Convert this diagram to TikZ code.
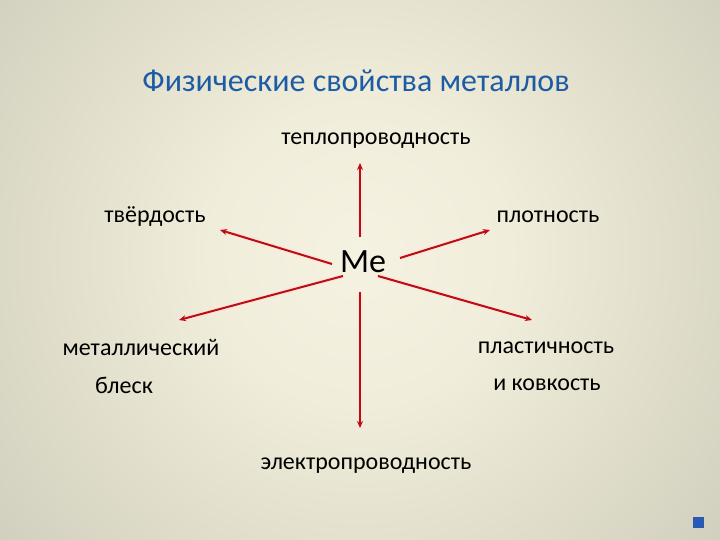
\documentclass[tikz,border=0pt]{standalone}
\usepackage{fontspec}
\setmainfont{Carlito}
\usetikzlibrary{arrows.meta}
\definecolor{bga}{RGB}{246,242,225}
\definecolor{bgb}{RGB}{241,237,219}
\definecolor{bgc}{RGB}{208,206,188}
\definecolor{bgd}{RGB}{160,160,145}
\definecolor{bge}{RGB}{132,132,118}
\definecolor{arr}{RGB}{185,15,15}
\definecolor{glow}{RGB}{255,225,225}
\definecolor{ttl}{RGB}{28,92,165}
\definecolor{mark}{RGB}{40,90,180}
\pgfdeclareradialshading{bgshade}{\pgfpoint{0bp}{0bp}}{color(0bp)=(bga); color(8bp)=(bgb); color(25bp)=(bgc); color(40bp)=(bgd); color(50bp)=(bge)}
\tikzset{
  lbl/.style={font=\fontsize{24}{28}\selectfont, text=black, inner sep=0pt},
  ttlstyle/.style={font=\fontsize{32}{36}\selectfont, text=ttl, inner sep=0pt},
  meta/.style={font=\fontsize{34}{38}\selectfont, text=black, inner sep=0pt},
  halo/.style={glow, opacity=0.7, line width=5pt},
  arrowline/.style={arr, line width=2pt, -{Stealth[length=7pt,width=6pt]}}
}
\begin{document}
\begin{tikzpicture}[x=1pt,y=-1pt]
\useasboundingbox (0,0) rectangle (720,540);
\begin{scope}
\clip (0,0) rectangle (720,540);
\shade[shading=bgshade] (360,255) circle (470pt);
\end{scope}
\node[ttlstyle] (title) at (356,81) {Физические свойства металлов};
\node[meta] (me) at (363,262) {Ме};
\node[lbl] (heat) at (376,141) {теплопроводность};
\node[lbl] (hard) at (155,217) {твёрдость};
\node[lbl] (dens) at (548,217) {плотность};
\node[lbl] (lus1) at (141,347) {металлический};
\node[lbl] (lus2) at (124,385) {блеск};
\node[lbl] (pla1) at (546,348) {пластичность};
\node[lbl] (pla2) at (547,385) {и ковкость};
\node[lbl] (elec) at (366,466) {электропроводность};
\coordinate (su) at (360,237); \coordinate (eu) at (360,163);
\coordinate (sd) at (360,292); \coordinate (ed) at (360,428);
\coordinate (sul) at (332,264); \coordinate (eul) at (220,230);
\coordinate (sur) at (400,258); \coordinate (eur) at (490,230);
\coordinate (sll) at (343,276); \coordinate (ell) at (179,320);
\coordinate (slr) at (378,276); \coordinate (elr) at (532,320);
\foreach \a/\b in {su/eu,sd/ed,sul/eul,sur/eur,sll/ell,slr/elr}{
  \draw[halo] (\a) -- (\b);
  \draw[arrowline] (\a) -- (\b);
}
\node[fill=mark, minimum size=11pt, inner sep=0pt] (sq) at (698,522) {};
\end{tikzpicture}
\end{document}
